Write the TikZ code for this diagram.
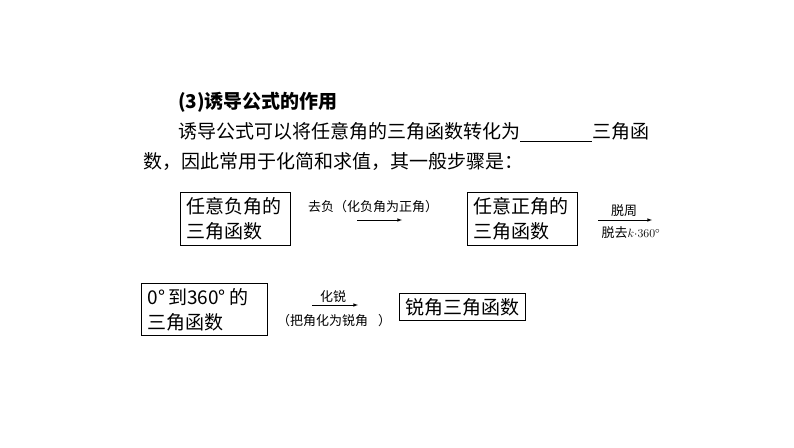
\documentclass[tikz,border=0pt]{standalone}
\usepackage{fontspec}
\setmainfont{Liberation Serif}
\newfontfamily\cjk{Noto Sans CJK SC}
\begin{document}
\begin{tikzpicture}[x=1pt,y=-1pt,
  body/.style={inner sep=0,anchor=west,font=\cjk\fontsize{19}{22}\selectfont},
  bx/.style={draw,line width=1.2pt,anchor=north west,inner sep=0,align=left,font=\cjk\fontsize{19}{25}\selectfont},
  sm/.style={inner sep=0,font=\cjk\fontsize{13}{15}\selectfont},
  arr/.style={-latex,line width=0.6pt}]
\useasboundingbox (0,0) rectangle (794,447);
\node[body] (t1) at (178,102) {\bfseries(3)诱导公式的作用};
\node[body] (t2) at (178,132) {诱导公式可以将任意角的三角函数转化为\rule[-3pt]{72pt}{0.8pt}三角函};
\node[body] (t3) at (143,162) {数，因此常用于化简和求值，其一般步骤是：};
\node[bx,minimum width=110,minimum height=53,text width=104] (b1) at (180,192) {\hspace*{3pt}任意负角的\\\hspace*{3pt}三角函数};
\node[sm,anchor=west] (l1) at (308,207) {去负（化负角为正角）};
\coordinate (a1s) at (357,220); \coordinate (a1e) at (402,220);
\draw[arr] (a1s) -- (a1e);
\node[bx,minimum width=110,minimum height=53,text width=104] (b2) at (467,192) {\hspace*{3pt}任意正角的\\\hspace*{3pt}三角函数};
\node[sm] (l2) at (624,211) {脱周};
\coordinate (a2s) at (598,220); \coordinate (a2e) at (652,220);
\draw[arr] (a2s) -- (a2e);
\node[sm,font=\fontsize{13}{15}\selectfont] (l3) at (631,233) {{\cjk 脱去}$k{\cdot}360^\circ$};
\node[bx,minimum width=126,minimum height=52,text width=120] (b3) at (141,283) {\hspace*{3pt}0°\,到360°\,的\\\hspace*{3pt}三角函数};
\node[sm] (l4) at (333,297) {化锐};
\coordinate (a3s) at (312,305); \coordinate (a3e) at (358,305);
\draw[arr] (a3s) -- (a3e);
\node[sm,anchor=west] (l5) at (277,321) {（把角化为锐角\hspace{10pt}）};
\node[bx,minimum width=126,minimum height=27,text width=120,align=center] (b4) at (399,293) {锐角三角函数};
\end{tikzpicture}
\end{document}
